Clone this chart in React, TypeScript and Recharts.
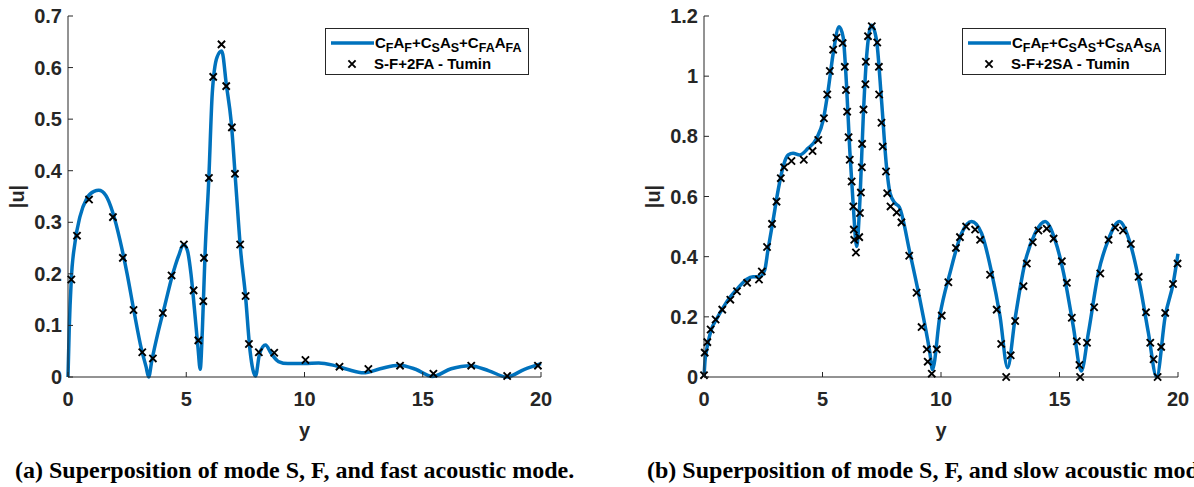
import React from 'react';
import { ComposedChart, Line, Scatter, XAxis, YAxis, Legend, Label } from 'recharts';

const xTicks = [0, 5, 10, 15, 20];
const fastYTicks = [0, 0.1, 0.2, 0.3, 0.4, 0.5, 0.6, 0.7];
const slowYTicks = [0, 0.2, 0.4, 0.6, 0.8, 1, 1.2];

// (a) fast acoustic superposition: model curve
const fastCurveX = [0, 0.05, 0.14, 0.3, 0.5, 0.8, 1.1, 1.3, 1.6, 1.9, 2.2, 2.5, 2.8, 3.1, 3.3, 3.41, 3.55, 3.8, 4.1, 4.4, 4.7, 4.88, 5.05, 5.2, 5.35, 5.5, 5.59, 5.68, 5.8, 5.95, 6.1, 6.3, 6.5, 6.7, 6.9, 7.1, 7.3, 7.5, 7.7, 7.93, 8.1, 8.35, 8.6, 8.9, 9.3, 10, 10.6, 11.2, 11.8, 12.5, 13.2, 14, 14.7, 15.4, 16.2, 17, 17.8, 18.55, 19.3, 20];
const fastCurveY = [0, 0.09, 0.19, 0.262, 0.31, 0.347, 0.36, 0.362, 0.352, 0.318, 0.265, 0.2, 0.125, 0.055, 0.02, 0, 0.033, 0.085, 0.14, 0.195, 0.238, 0.257, 0.245, 0.2, 0.13, 0.055, 0.015, 0.09, 0.245, 0.38, 0.55, 0.62, 0.632, 0.565, 0.495, 0.37, 0.245, 0.16, 0.05, 0.002, 0.045, 0.062, 0.045, 0.03, 0.026, 0.026, 0.027, 0.023, 0.015, 0.008, 0.016, 0.023, 0.015, 0.001, 0.016, 0.022, 0.012, 0, 0.015, 0.026];
// (a) Tumin reference points
const fastTuminX = [0.14, 0.38, 0.89, 1.9, 2.32, 2.77, 3.14, 3.59, 4.01, 4.38, 4.9, 5.31, 5.51, 5.72, 5.75, 5.96, 6.14, 6.49, 6.69, 6.93, 7.06, 7.28, 7.51, 7.65, 8.07, 8.72, 10.04, 11.48, 12.7, 14.04, 15.45, 17.05, 18.57, 19.87];
const fastTuminY = [0.189, 0.274, 0.344, 0.31, 0.231, 0.13, 0.048, 0.036, 0.124, 0.197, 0.257, 0.168, 0.071, 0.147, 0.231, 0.386, 0.582, 0.645, 0.564, 0.484, 0.394, 0.257, 0.157, 0.064, 0.048, 0.047, 0.033, 0.02, 0.0155, 0.022, 0.0065, 0.022, 0.002, 0.022];

// (b) slow acoustic superposition: model curve
const slowCurveX = [0, 0.05, 0.1, 0.17, 0.31, 0.52, 0.8, 1.08, 1.44, 1.79, 2.07, 2.35, 2.56, 2.7, 2.92, 3.13, 3.34, 3.55, 3.76, 4.04, 4.39, 4.75, 5.03, 5.24, 5.45, 5.7, 5.87, 6.01, 6.15, 6.3, 6.44, 6.58, 6.72, 6.86, 7.07, 7.28, 7.49, 7.7, 7.85, 8.06, 8.24, 8.69, 9.11, 9.53, 9.64, 9.95, 10.38, 10.87, 11.29, 11.71, 12.14, 12.49, 12.81, 13.12, 13.54, 13.97, 14.39, 14.81, 15.23, 15.58, 15.92, 16.22, 16.64, 17.06, 17.52, 17.98, 18.4, 18.75, 19.1, 19.46, 19.8, 20];
const slowCurveY = [0, 0.06, 0.085, 0.114, 0.158, 0.191, 0.23, 0.263, 0.296, 0.324, 0.333, 0.333, 0.355, 0.423, 0.523, 0.622, 0.7, 0.738, 0.744, 0.738, 0.76, 0.793, 0.854, 0.954, 1.075, 1.164, 1.13, 0.976, 0.755, 0.567, 0.434, 0.589, 0.865, 1.064, 1.169, 1.119, 0.92, 0.7, 0.611, 0.578, 0.565, 0.412, 0.257, 0.081, 0.025, 0.202, 0.346, 0.478, 0.517, 0.478, 0.346, 0.202, 0.031, 0.191, 0.379, 0.478, 0.517, 0.456, 0.324, 0.169, 0.02, 0.147, 0.346, 0.456, 0.517, 0.445, 0.302, 0.147, 0, 0.202, 0.313, 0.41];
// (b) Tumin reference points
const slowTuminX = [0, 0.03, 0.14, 0.28, 0.49, 0.77, 1.11, 1.39, 1.82, 2.32, 2.44, 2.66, 2.87, 3.06, 3.24, 3.38, 3.69, 4.21, 4.58, 4.82, 5.06, 5.2, 5.31, 5.45, 5.59, 5.85, 5.94, 5.99, 6.04, 6.1, 6.15, 6.23, 6.3, 6.32, 6.34, 6.41, 6.55, 6.58, 6.62, 6.66, 6.67, 6.73, 6.81, 6.83, 6.92, 7.08, 7.31, 7.38, 7.39, 7.49, 7.54, 7.68, 7.73, 7.87, 8.13, 8.33, 8.66, 8.97, 9.18, 9.4, 9.44, 9.61, 9.82, 10.03, 10.31, 10.63, 10.8, 11.06, 11.44, 11.65, 12.07, 12.35, 12.54, 12.75, 12.94, 13.13, 13.48, 13.62, 13.87, 14.11, 14.46, 14.75, 15.1, 15.31, 15.52, 15.73, 15.84, 15.87, 16.16, 16.46, 16.72, 17.07, 17.35, 17.68, 18.01, 18.34, 18.65, 18.83, 18.97, 19.14, 19.29, 19.46, 19.79, 19.98];
const slowTuminY = [0.006, 0.081, 0.116, 0.158, 0.191, 0.224, 0.257, 0.285, 0.313, 0.324, 0.351, 0.432, 0.509, 0.583, 0.661, 0.697, 0.718, 0.722, 0.751, 0.788, 0.86, 0.939, 1.017, 1.088, 1.128, 1.11, 1.031, 0.954, 0.882, 0.797, 0.722, 0.65, 0.567, 0.49, 0.456, 0.414, 0.465, 0.545, 0.613, 0.697, 0.775, 0.889, 0.973, 1.048, 1.133, 1.166, 1.112, 1.031, 0.939, 0.845, 0.766, 0.683, 0.611, 0.567, 0.547, 0.514, 0.403, 0.28, 0.166, 0.092, 0.051, 0.011, 0.092, 0.204, 0.315, 0.429, 0.465, 0.5, 0.49, 0.456, 0.34, 0.224, 0.11, 0, 0.072, 0.186, 0.302, 0.377, 0.448, 0.487, 0.493, 0.46, 0.385, 0.313, 0.197, 0.119, 0.04, 0, 0.114, 0.232, 0.344, 0.456, 0.497, 0.487, 0.442, 0.333, 0.215, 0.114, 0.059, 0, 0.1, 0.213, 0.309, 0.377];

const zip = (xs: number[], ys: number[]) => xs.map((x, i) => ({ x, y: ys[i] }));

const AX = '#262626';
const BLUE = '#0072BD';
const SANS = '"Liberation Sans", Arial, Helvetica, sans-serif';
const SERIF = '"Liberation Serif", "Times New Roman", Times, serif';
const TICK_FS = 20;
const XTM = 10;
const YTM = 6;

function XTick(p: any) {
  const { x, y, payload } = p;
  const ay = y - XTM;
  return (
    <g>
      <line x1={x} x2={x} y1={ay} y2={ay - 5} stroke={AX} strokeWidth={1} />
      <text x={x} y={ay + 22} dy="0.35em" textAnchor="middle" fill={AX} fontFamily={SANS} fontWeight="bold" fontSize={TICK_FS}>
        {String(payload.value)}
      </text>
    </g>
  );
}

function YTick(p: any) {
  const { x, y, payload } = p;
  const ax = x + YTM;
  return (
    <g>
      <line x1={ax} x2={ax + 5} y1={y} y2={y} stroke={AX} strokeWidth={1} />
      <text x={x} y={y} dy="0.35em" textAnchor="end" fill={AX} fontFamily={SANS} fontWeight="bold" fontSize={TICK_FS}>
        {String(payload.value)}
      </text>
    </g>
  );
}

function Cross(p: any) {
  const { cx, cy } = p;
  if (cx == null || cy == null) return null;
  const s = 3.6;
  return (
    <path
      d={`M${cx - s},${cy - s}L${cx + s},${cy + s}M${cx - s},${cy + s}L${cx + s},${cy - s}`}
      stroke="#000"
      strokeWidth={1.9}
      fill="none"
    />
  );
}

const subStyle: React.CSSProperties = { fontSize: 12.5, verticalAlign: '-4px', lineHeight: 0 };

function LegendBox({ main, second }: { main: React.ReactNode; second: string }) {
  return (
    <div
      style={{
        position: 'relative',
        width: 204,
        height: 47,
        boxSizing: 'border-box',
        border: `1px solid ${AX}`,
        background: '#fff',
        fontFamily: SANS,
        fontWeight: 'bold',
        color: '#000',
      }}
    >
      <svg width={204} height={47} style={{ position: 'absolute', left: -1, top: -1 }}>
        <line x1={6} x2={49} y1={15} y2={15} stroke={BLUE} strokeWidth={3.5} />
        <Cross cx={27} cy={36} />
      </svg>
      <div style={{ position: 'absolute', left: 49, top: 5, fontSize: 15, lineHeight: '18px', whiteSpace: 'nowrap' }}>{main}</div>
      <div style={{ position: 'absolute', left: 48, top: 26, fontSize: 15, lineHeight: '18px', whiteSpace: 'nowrap' }}>{second}</div>
    </div>
  );
}

function Panel(props: {
  width: number;
  right: number;
  curve: { x: number; y: number }[];
  points: { x: number; y: number }[];
  yMax: number;
  yTicks: number[];
  legendLeft: number;
  main: React.ReactNode;
  second: string;
}) {
  const { width, right, curve, points, yMax, yTicks, legendLeft, main, second } = props;
  return (
    <ComposedChart width={width} height={450} margin={{ top: 16, right, bottom: 0, left: 0 }}>
      <XAxis
        type="number"
        dataKey="x"
        domain={[0, 20]}
        ticks={xTicks}
        interval={0}
        height={73}
        tickSize={0}
        tickMargin={XTM}
        tick={(p: any) => <XTick {...p} />}
        axisLine={{ stroke: AX, strokeWidth: 1 }}
        tickLine={false}
      >
        <Label
          value="y"
          position="insideBottom"
          offset={13}
          style={{ fontFamily: SANS, fontWeight: 'bold', fontSize: 20, fill: AX }}
        />
      </XAxis>
      <YAxis
        type="number"
        dataKey="y"
        domain={[0, yMax]}
        ticks={yTicks}
        interval={0}
        width={68}
        tickSize={0}
        tickMargin={YTM}
        tick={(p: any) => <YTick {...p} />}
        axisLine={{ stroke: AX, strokeWidth: 1 }}
        tickLine={false}
      >
        <Label
          value="|u|"
          angle={-90}
          position="insideLeft"
          offset={17}
          style={{ fontFamily: SANS, fontWeight: 'bold', fontSize: 20, fill: AX, textAnchor: 'middle' }}
        />
      </YAxis>
      <Legend
        layout="vertical"
        align="center"
        verticalAlign="middle"
        wrapperStyle={{ left: legendLeft, top: 28, width: 204, height: 47 }}
        content={() => <LegendBox main={main} second={second} />}
      />
      <Line
        data={curve}
        dataKey="y"
        type="monotone"
        stroke={BLUE}
        strokeWidth={3.5}
        dot={false}
        activeDot={false}
        isAnimationActive={false}
      />
      <Scatter data={points} dataKey="y" shape={(p: any) => <Cross {...p} />} isAnimationActive={false} />
    </ComposedChart>
  );
}

const captionStyle: React.CSSProperties = {
  position: 'absolute',
  top: 458,
  fontFamily: SERIF,
  fontWeight: 'bold',
  fontSize: 24,
  lineHeight: '24px',
  whiteSpace: 'nowrap',
  color: '#000',
};

export default function App() {
  const fastCurve = zip(fastCurveX, fastCurveY);
  const fastPts = zip(fastTuminX, fastTuminY);
  const slowCurve = zip(slowCurveX, slowCurveY);
  const slowPts = zip(slowTuminX, slowTuminY);
  return (
    <div style={{ position: 'absolute', left: 0, top: 0, width: 1194, height: 487, overflow: 'hidden', background: '#fff' }}>
      <div style={{ position: 'absolute', left: 0, top: 0 }}>
        <Panel
          width={580}
          right={39}
          curve={fastCurve}
          points={fastPts}
          yMax={0.7}
          yTicks={fastYTicks}
          legendLeft={325}
          main={
            <span>
              C<sub style={subStyle}>F</sub>A<sub style={subStyle}>F</sub>+C<sub style={subStyle}>S</sub>A
              <sub style={subStyle}>S</sub>+C<sub style={subStyle}>FA</sub>A<sub style={subStyle}>FA</sub>
            </span>
          }
          second="S-F+2FA - Tumin"
        />
      </div>
      <div style={{ position: 'absolute', left: 636, top: 0 }}>
        <Panel
          width={558}
          right={16}
          curve={slowCurve}
          points={slowPts}
          yMax={1.2}
          yTicks={slowYTicks}
          legendLeft={326}
          main={
            <span>
              C<sub style={subStyle}>F</sub>A<sub style={subStyle}>F</sub>+C<sub style={subStyle}>S</sub>A
              <sub style={subStyle}>S</sub>+C<sub style={subStyle}>SA</sub>A<sub style={subStyle}>SA</sub>
            </span>
          }
          second="S-F+2SA - Tumin"
        />
      </div>
      <div style={{ ...captionStyle, left: 15 }}>(a) Superposition of mode S, F, and fast acoustic mode.</div>
      <div style={{ ...captionStyle, left: 647 }}>(b) Superposition of mode S, F, and slow acoustic mode.</div>
    </div>
  );
}
